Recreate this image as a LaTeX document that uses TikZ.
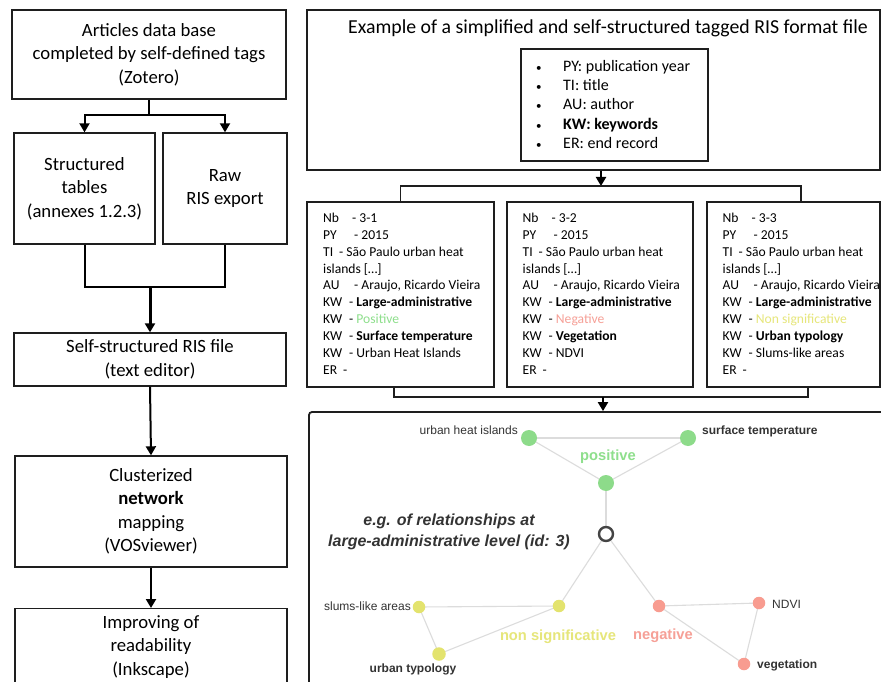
\documentclass[tikz,border=0pt]{standalone}
\usepackage{fontspec}
\setmainfont{Carlito}
\newfontfamily\arialf{Liberation Sans}
\usetikzlibrary{arrows.meta}
\definecolor{bordc}{HTML}{1E1E1E}
\definecolor{posc}{HTML}{8EDF8C}
\definecolor{negc}{HTML}{F6A097}
\definecolor{nsc}{HTML}{E6E67A}
\definecolor{gfill}{HTML}{8DDB8A}
\definecolor{yfill}{HTML}{E3E36E}
\definecolor{rfill}{HTML}{F89C90}
\definecolor{edgec}{HTML}{DCDCDC}
\definecolor{ringc}{HTML}{444444}
\definecolor{labc}{HTML}{333333}
\newcommand\recline[3]{\makebox[#2pt][l]{#1}-\ #3}
\pgfdeclarelayer{bg}
\pgfsetlayers{bg,main}
\begin{document}
\begin{tikzpicture}[x=1pt,y=-1pt,
  box/.style={draw=bordc, line width=1.4, inner sep=0pt},
  lefttxt/.style={align=center, font=\fontsize{18.7}{23.5}\selectfont},
  conn/.style={draw=black, line width=2},
  thinconn/.style={draw=bordc, line width=1.4},
  arr/.style={conn, -{Triangle[width=10pt,length=9pt]}},
  recl/.style={anchor=base west, inner sep=0pt, font=\fontsize{13.6}{16.9}\selectfont},
  bul/.style={anchor=base west, inner sep=0pt, font=\fontsize{16}{19}\selectfont},
  gn/.style={circle, inner sep=0pt, minimum size=16, fill=gfill},
  yn/.style={circle, inner sep=0pt, minimum size=12.5, fill=yfill},
  rn/.style={circle, inner sep=0pt, minimum size=12.5, fill=rfill},
  nl/.style={inner sep=0pt, text=labc, font=\arialf\fontsize{12}{14}\selectfont},
  nlb/.style={inner sep=0pt, text=labc, font=\arialf\bfseries\fontsize{12}{14}\selectfont},
  catl/.style={inner sep=0pt, font=\arialf\bfseries\fontsize{14.7}{17}\selectfont},
  edge/.style={draw=edgec, line width=1.1}]
\useasboundingbox (0,0) rectangle (881,682);
\begin{pgfonlayer}{bg}
\fill[white] (0,0) rectangle (881,682);
\end{pgfonlayer}
\clip (0,0) rectangle (881,682);

% ---------- left column ----------
\node[box, lefttxt, minimum width=274, minimum height=89] (A) at (149,54.5)
  {Articles data base\\completed by self-defined tags\\(Zotero)};
\node[box, lefttxt, minimum width=141, minimum height=111] (B) at (84.5,188.5)
  {Structured\\tables\\(annexes 1.2.3)};
\node[box, lefttxt, minimum width=124, minimum height=111] (C) at (225,188.5)
  {Raw\\RIS export};
\node[box, lefttxt, minimum width=272, minimum height=53] (D) at (150,359.5)
  {Self-structured RIS file\\(text editor)};
\node[box, lefttxt, minimum width=272, minimum height=111] (E) at (151,511.5)
  {Clusterized\\\textbf{network}\\mapping\\(VOSviewer)};
\node[box, minimum width=272, minimum height=90, anchor=north] (F) at (151,608) {};
\node[lefttxt] (Ft) at (151,647) {Improving of\\readability\\(Inkscape)};

\coordinate (a1) at (149,115);
\draw[conn] (A.south) -- (a1);
\draw[arr] (a1) -| (B.north);
\draw[arr] (a1) -| (C.north);
\coordinate (m1) at (150,287);
\draw[conn] (B.south) |- (C.south |- m1) -- (C.south);
\draw[arr, line width=3] (m1) -- (D.north);
\draw[arr] (D.south) -- (E.north);
\draw[arr] (E.south) -- (F.north);

% ---------- RIS example ----------
\node[box, minimum width=573, minimum height=160] (G) at (593.5,90) {};
\node[inner sep=0pt, font=\fontsize{19.8}{22}\selectfont] (Gt) at (608,28)
  {Example of a simplified and self-structured tagged RIS format file};
\node[box, minimum width=187, minimum height=112] (H) at (614.5,105) {};
\foreach \t [count=\i from 0] in {
  {PY: publication year},
  {TI: title},
  {AU: author},
  {\textbf{KW: keywords}},
  {ER: end record}}{
  \node[bul, font=\fontsize{11}{13}\selectfont] (hb\i) at (536,71.5+19.25*\i) {•};
  \node[bul] (ht\i) at (563,71.5+19.25*\i) {\t};
}

\node[box, minimum width=187, minimum height=185] (R1) at (400.5,294.5) {};
\node[box, minimum width=186, minimum height=185] (R2) at (600,294.5) {};
\node[box, minimum width=173, minimum height=185] (R3) at (793.5,294.5) {};

\foreach \t [count=\i from 0] in {
  {\recline{Nb}{29}{3-1}},
  {\recline{PY}{31}{2015}},
  {\recline{TI}{16}{São Paulo urban heat}},
  {islands […]},
  {\recline{AU}{31}{Araujo, Ricardo Vieira}},
  {\recline{KW}{26}{\textbf{Large-administrative}}},
  {\recline{KW}{26}{\textcolor{posc}{Positive}}},
  {\recline{KW}{26}{\textbf{Surface temperature}}},
  {\recline{KW}{26}{Urban Heat Islands}},
  {\recline{ER}{20}{}}}{
  \node[recl] (ra\i) at (323,222.5+16.85*\i) {\t};
}
\foreach \t [count=\i from 0] in {
  {\recline{Nb}{29}{3-2}},
  {\recline{PY}{31}{2015}},
  {\recline{TI}{16}{São Paulo urban heat}},
  {islands […]},
  {\recline{AU}{31}{Araujo, Ricardo Vieira}},
  {\recline{KW}{26}{\textbf{Large-administrative}}},
  {\recline{KW}{26}{\textcolor{negc}{Negative}}},
  {\recline{KW}{26}{\textbf{Vegetation}}},
  {\recline{KW}{26}{NDVI}},
  {\recline{ER}{20}{}}}{
  \node[recl] (rb\i) at (522.5,222.5+16.85*\i) {\t};
}
\foreach \t [count=\i from 0] in {
  {\recline{Nb}{29}{3-3}},
  {\recline{PY}{31}{2015}},
  {\recline{TI}{16}{São Paulo urban heat}},
  {islands […]},
  {\recline{AU}{31}{Araujo, Ricardo Vieira}},
  {\recline{KW}{26}{\textbf{Large-administrative}}},
  {\recline{KW}{26}{\textcolor{nsc}{Non significative}}},
  {\recline{KW}{26}{\textbf{Urban typology}}},
  {\recline{KW}{26}{Slums-like areas}},
  {\recline{ER}{20}{}}}{
  \node[recl] (rc\i) at (722.5,222.5+16.85*\i) {\t};
}

\coordinate (gt) at (601,186);
\coordinate (t3) at (801,186);
\draw[arr] (G.south -| gt) -- (gt);
\draw[thinconn] (R1.north) |- (t3) -- (t3 |- R3.north);

\node[draw=bordc, line width=1.8, rounded corners=3, minimum width=588, minimum height=288,
  inner sep=0pt] (N) at (603,556) {};
\coordinate (b1) at (394,397);
\coordinate (b3) at (808,397);
\coordinate (bm) at (603,397);
\draw[thinconn] (R1.south -| b1) -- (b1) -- (b3) -- (R3.south -| b3);
\draw[arr] (bm) -- (N.north -| bm);

% ---------- network ----------
\node[gn] (uhi) at (529,438) {};
\node[gn] (st) at (688,438) {};
\node[gn] (pos) at (606,483) {};
\node[circle, draw=ringc, line width=2.4, fill=white, inner sep=0pt, minimum size=14] (ctr) at (606,534) {};
\node[yn] (yc) at (559,606) {};
\node[yn] (sl) at (419,607) {};
\node[yn, minimum size=13.5] (ut) at (439,654) {};
\node[rn] (rc) at (659,606) {};
\node[rn] (nd) at (759,603) {};
\node[rn] (vg) at (744,664) {};
\begin{pgfonlayer}{bg}
\draw[edge] (uhi.center) -- (st.center);
\draw[edge] (uhi.center) -- (pos.center);
\draw[edge] (st.center) -- (pos.center);
\draw[edge] (pos.center) -- (ctr.center);
\draw[edge] (ctr.center) -- (yc.center);
\draw[edge] (ctr.center) -- (rc.center);
\draw[edge] (yc.center) -- (sl.center);
\draw[edge] (sl.center) -- (ut.center);
\draw[edge] (ut.center) -- (yc.center);
\draw[edge] (rc.center) -- (nd.center);
\draw[edge] (nd.center) -- (vg.center);
\draw[edge] (rc.center) -- (vg.center);
\end{pgfonlayer}

\node[nl, anchor=east] (luhi) at (518,430) {urban heat islands};
\node[nlb, anchor=west] (lst) at (702,431) {surface temperature};
\node[catl, text=posc] (lpos) at (608,457) {positive};
\node[inner sep=0pt, align=center, text=labc, font=\arialf\bfseries\itshape\fontsize{16}{21}\selectfont] (leg) at (449,532)
  {e.g. of relationships at\\large-administrative level (id: 3)};
\node[nl, anchor=east] (lsl) at (411,606) {slums-like areas};
\node[nlb] (lut) at (413,669) {urban typology};
\node[catl, text=nsc] (lns) at (558,637) {non significative};
\node[catl, text=negc] (lneg) at (663,636) {negative};
\node[nl, anchor=west] (lnd) at (772,604) {NDVI};
\node[nlb, anchor=west] (lvg) at (757,665) {vegetation};
\end{tikzpicture}
\end{document}
